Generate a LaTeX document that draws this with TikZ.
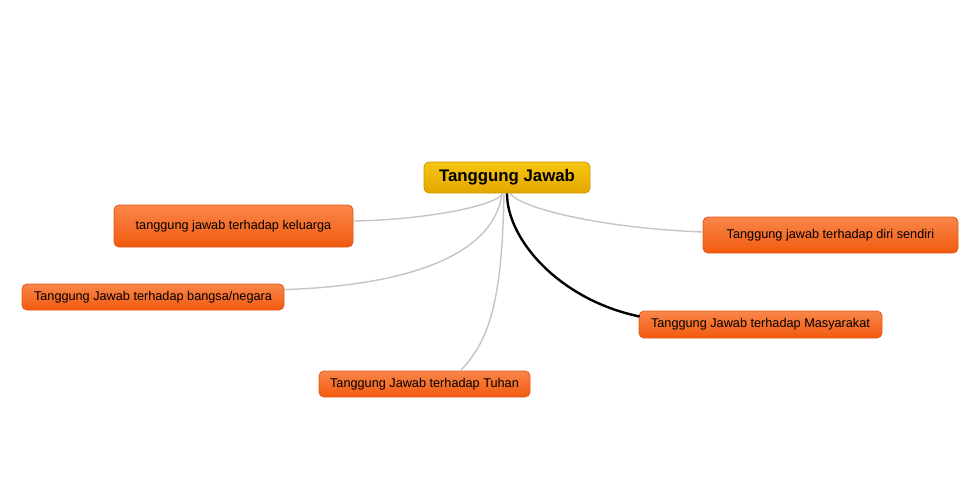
\documentclass[tikz,border=0pt]{standalone}
\usepackage{fontspec}
\setmainfont{Liberation Sans}
\definecolor{otop}{HTML}{F9864A}
\definecolor{obot}{HTML}{F25A0E}
\definecolor{obrd}{HTML}{E2561A}
\definecolor{gtop}{HTML}{F7C512}
\definecolor{gbot}{HTML}{E3A800}
\definecolor{gbrd}{HTML}{C99600}
\definecolor{lgray}{HTML}{C4C4C4}
\tikzset{
  child/.style={draw=obrd, line width=0.8pt, rounded corners=5pt, top color=otop, bottom color=obot,
    font=\fontsize{12.7}{15}\selectfont, text=black, inner sep=0pt, anchor=center},
  rootbox/.style={draw=gbrd, line width=0.8pt, rounded corners=5pt, top color=gtop, bottom color=gbot,
    font=\fontsize{16.8}{19}\selectfont\bfseries, text=black, inner sep=0pt, anchor=center},
  graylink/.style={draw=lgray, line width=1.4pt},
  blacklink/.style={draw=black, line width=2.4pt},
}
\begin{document}
\begin{tikzpicture}[x=1pt,y=-1pt]
\useasboundingbox (0,0) rectangle (978,480);
\node[rootbox, minimum width=166pt, minimum height=31pt] (c) at (507,177.5) {Tanggung Jawab};
\node[child, minimum width=239pt, minimum height=42pt] (k) at (233.5,226) {tanggung jawab terhadap keluarga};
\node[child, minimum width=262pt, minimum height=26pt] (b) at (153,297) {Tanggung Jawab terhadap bangsa/negara};
\node[child, minimum width=211pt, minimum height=26pt] (t) at (424.5,384) {Tanggung Jawab terhadap Tuhan};
\node[child, minimum width=255pt, minimum height=36pt] (d) at (830.5,235) {Tanggung jawab terhadap diri sendiri};
\node[child, minimum width=243pt, minimum height=27pt] (m) at (760.5,324.5) {Tanggung Jawab terhadap Masyarakat};
\coordinate (o1) at ([xshift=-4pt]c.south);
\coordinate (o2) at ([xshift=-5pt]c.south);
\coordinate (o3) at ([xshift=-3pt]c.south);
\coordinate (o4) at ([xshift=3pt]c.south);
\coordinate (o5) at ([xshift=0pt]c.south);
\coordinate (ek) at ([yshift=5pt]k.east);
\coordinate (eb) at ([yshift=-6pt]b.north east);
\coordinate (et) at ([xshift=36pt]t.north);
\coordinate (ed) at ([yshift=3pt]d.west);
\coordinate (em) at ([yshift=8pt,xshift=1pt]m.west);
\draw[graylink] (o1) .. controls (495,207) and (420,220) .. (ek);
\draw[graylink] (o2) .. controls (495,250) and (420,285) .. (eb);
\draw[graylink] (o3) .. controls (502,300) and (490,340) .. (et);
\draw[graylink] (o4) .. controls (520,208) and (600,228) .. (ed);
\draw[blacklink] (o5) .. controls (507,240) and (560,300) .. (em);
\end{tikzpicture}
\end{document}
